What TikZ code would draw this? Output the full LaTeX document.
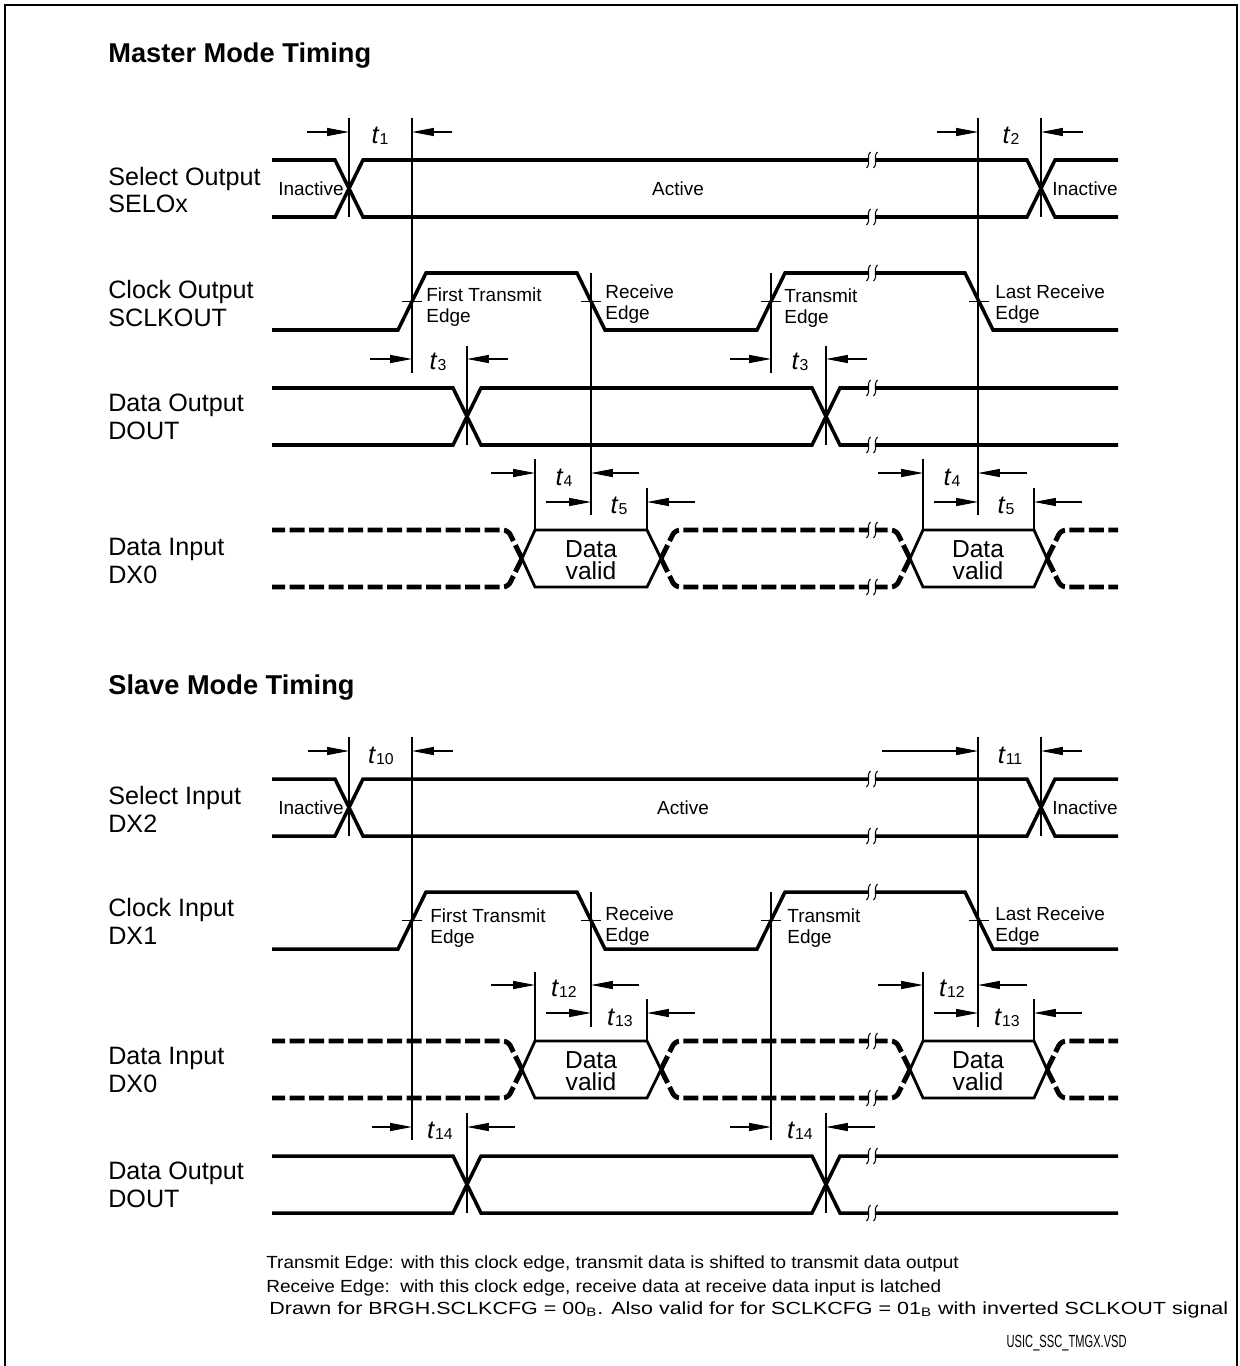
\documentclass[tikz,border=0pt]{standalone}
\usepackage{fontspec}
\setmainfont{Liberation Sans}
\usepackage{graphicx}
\usetikzlibrary{arrows.meta}

\newcommand{\tsub}[1]{\textit{t}\raisebox{-0.9pt}{\fontsize{9pt}{10pt}\selectfont #1}}
\newcommand{\gapmark}[2]{%
  \fill[white] (#1-3.5,#2-4) rectangle (#1+3.5,#2+4);
  \foreach \dx in {-3.5,3.5}
    \draw[line width=0.6pt] (#1+\dx-2,#2+8) .. controls (#1+\dx+3,#2+3) and (#1+\dx-3,#2-3) .. (#1+\dx+2,#2-8);
}

\begin{document}
\begin{tikzpicture}[x=0.02cm, y=-0.02cm]
  \tikzstyle{sig} = [line width=2pt]
  \tikzstyle{inval} = [line width=2.8pt, dash pattern=on 8.5pt off 2.6pt, rounded corners=3pt]
  \tikzstyle{valbox} = [line width=1.6pt]
  \tikzstyle{guide} = [line width=0.6pt]
  \tikzstyle{dimarrow} = [line width=0.6pt, -{Triangle[length=12.5pt, width=4.6pt]}]
  \tikzstyle{lbl} = [anchor=west, align=left, inner sep=0pt, font=\fontsize{14.3pt}{15.9pt}\selectfont]
  \tikzstyle{ttl} = [anchor=base west, inner sep=0pt, font=\fontsize{15.5pt}{18pt}\selectfont\bfseries]
  \tikzstyle{edgelbl} = [anchor=north west, align=left, inner sep=0pt, font=\fontsize{10.8pt}{11.9pt}\selectfont]
  \tikzstyle{state} = [inner sep=0pt, font=\fontsize{10.8pt}{12pt}\selectfont]
  \tikzstyle{tlab} = [anchor=base, inner sep=0pt, font=\fontsize{14.5pt}{16pt}\selectfont]
  \tikzstyle{dv} = [align=center, inner sep=0pt, font=\fontsize{14pt}{12.5pt}\selectfont]
  \tikzstyle{remark} = [anchor=base west, inner sep=0pt, font=\fontsize{10pt}{12pt}\selectfont]

  \useasboundingbox (0,0) rectangle (1240,1366);
  \draw[line width=1.2pt] (5,1390) -- (5,5) -- (1237,5) -- (1237,1390);

  \node[ttl] (master) at (108,62) {Master Mode Timing};
  \node[ttl] (slave) at (108,694) {Slave Mode Timing};

  \node[lbl] (selo) at (108,190) {Select Output\\SELOx};
  \node[lbl] (clko) at (108,303.5) {Clock Output\\SCLKOUT};
  \node[lbl] (dout1) at (108,417) {Data Output\\DOUT};
  \node[lbl] (dxin1) at (108,561) {Data Input\\DX0};
  \node[lbl] (seli) at (108,809) {Select Input\\DX2};
  \node[lbl] (clki) at (108,921) {Clock Input\\DX1};
  \node[lbl] (dxin2) at (108,1070) {Data Input\\DX0};
  \node[lbl] (dout2) at (108,1185) {Data Output\\DOUT};

  % select lines
  \foreach \t in {160,779} {
    \draw[sig] (272,\t) -- (335,\t) -- (363,\t+57) -- (1027,\t+57) -- (1055,\t) -- (1118,\t);
    \draw[sig] (272,\t+57) -- (335,\t+57) -- (363,\t) -- (1027,\t) -- (1055,\t+57) -- (1118,\t+57);
  }
  % clock lines
  \foreach \h in {273,892}
    \draw[sig] (272,\h+57) -- (398,\h+57) -- (426,\h) -- (577,\h) -- (605,\h+57) -- (757,\h+57)
      -- (785,\h) -- (965,\h) -- (993,\h+57) -- (1118,\h+57);
  % data outputs
  \foreach \t in {388,1156} {
    \draw[sig] (272,\t) -- (453,\t) -- (481,\t+57) -- (812,\t+57) -- (840,\t) -- (1118,\t);
    \draw[sig] (272,\t+57) -- (453,\t+57) -- (481,\t) -- (812,\t) -- (840,\t+57) -- (1118,\t+57);
  }
  % data inputs
  \foreach \t in {530,1041} {
    \foreach \s in {0,57} {
      \draw[inval] (522,\t+28.5) -- (508,\t+\s) -- (272,\t+\s);
      \draw[inval] (661,\t+28.5) -- (675,\t+\s) -- (872,\t+\s);
      \draw[inval] (910,\t+28.5) -- (896,\t+\s) -- (872,\t+\s);
      \draw[inval] (1047,\t+28.5) -- (1061,\t+\s) -- (1118,\t+\s);
    }
    \draw[valbox] (522,\t+28.5) -- (535,\t) -- (647,\t) -- (661,\t+28.5) -- (647,\t+57) -- (535,\t+57) -- cycle;
    \draw[valbox] (910,\t+28.5) -- (923,\t) -- (1034,\t) -- (1047,\t+28.5) -- (1034,\t+57) -- (923,\t+57) -- cycle;
  }
  \foreach \y in {160,217,273,388,445,530,587,779,836,892,1041,1098,1156,1213}
    {\gapmark{872}{\y}}

  % guide lines and edge ticks
  \foreach \x/\ya/\yb in {349/118/217, 412/118/373, 1041/118/217, 978/118/515, 591/273/515,
      771/273/373, 467/346/445, 826/346/445, 535/459/530, 923/459/530, 647/488/530, 1034/488/530,
      349/737/836, 412/737/1140, 1041/737/836, 978/737/1027, 591/892/1027, 771/892/1140,
      535/972/1041, 923/972/1041, 647/999/1041, 1034/999/1041, 467/1113/1213, 826/1113/1213}
    \draw[guide] (\x,\ya) -- (\x,\yb);
  \foreach \m in {301.5,920.5}
    \foreach \x in {412,591,771,979}
      \draw[guide] (\x-10,\m) -- (\x+10,\m);

  % timing arrows
  \foreach \xa/\xb/\y in {307/349/132, 452/412/132, 937/978/132, 1083/1041/132,
      370/412/359, 508/467/359, 730/771/359, 867/826/359,
      491/535/473, 639/591/473, 546/591/502, 695/647/502,
      878/923/473, 1027/978/473, 934/978/502, 1082/1034/502,
      308/349/751, 453/412/751, 882/978/751, 1082/1041/751,
      491/535/985, 639/591/985, 546/591/1013, 695/647/1013,
      878/923/985, 1027/978/985, 934/978/1013, 1082/1034/1013,
      372/412/1127, 515/467/1127, 730/771/1127, 875/826/1127}
    \draw[dimarrow] (\xa,\y) -- (\xb,\y);
  \foreach \x/\y/\n in {380/143/1, 1011/143/2, 438/369/3, 800/369/3, 564/485/4, 952/485/4,
      619/513/5, 1006/513/5, 381/763/10, 1010/763/11, 564/996/12, 952/996/12,
      620/1025/13, 1007/1025/13, 440/1138/14, 800/1138/14}
    \node[tlab] (t\n-\x) at (\x,\y) {\tsub{\n}};

  % signal states
  \node[state, anchor=base east] (inact1) at (344,195) {Inactive};
  \node[state, anchor=base] (act1) at (678,195) {Active};
  \node[state, anchor=base west] (inact2) at (1052,195) {Inactive};
  \node[state, anchor=base east] (inact3) at (344,814) {Inactive};
  \node[state, anchor=base] (act2) at (683,814) {Active};
  \node[state, anchor=base west] (inact4) at (1052,814) {Inactive};

  \node[edgelbl] (fte1) at (426,287) {First Transmit\\Edge};
  \node[edgelbl] (re1) at (605,284) {Receive\\Edge};
  \node[edgelbl] (te1) at (784,288) {Transmit\\Edge};
  \node[edgelbl] (lre1) at (995,284) {Last Receive\\Edge};
  \node[edgelbl] (fte2) at (430,908) {First Transmit\\Edge};
  \node[edgelbl] (re2) at (605,906) {Receive\\Edge};
  \node[edgelbl] (te2) at (787,908) {Transmit\\Edge};
  \node[edgelbl] (lre2) at (995,906) {Last Receive\\Edge};

  \foreach \x/\y [count=\i] in {591/560, 978/560, 591/1071, 978/1071}
    \node[dv] (valid\i) at (\x,\y) {Data\\valid};

  % notes
  \node[remark] (note1) at (266,1268) {\resizebox{13.85cm}{\height}{Transmit Edge: with this clock edge, transmit data is shifted to transmit data output}};
  \node[remark] (note2) at (266,1292) {\resizebox{13.5cm}{\height}{Receive Edge:\ \ with this clock edge, receive data at receive data input is latched}};
  \node[remark] (note3) at (269,1314) {\resizebox{19.18cm}{\height}{Drawn for BRGH.SCLKCFG = 00\textsubscript{B}. Also valid for for SCLKCFG = 01\textsubscript{B} with inverted SCLKOUT signal}};
  \node[remark, anchor=base east] (fname) at (1127,1347) {\resizebox{2.4cm}{\height}{USIC\_SSC\_TMGX.VSD}};
\end{tikzpicture}
\end{document}
